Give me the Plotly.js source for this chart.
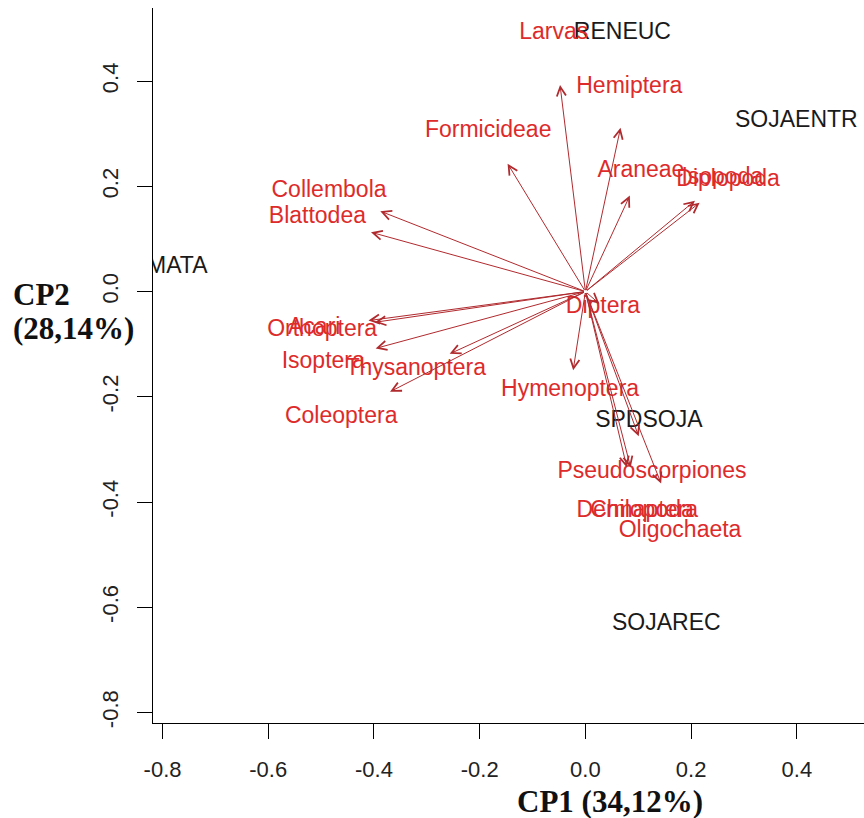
<!DOCTYPE html>
<html><head><meta charset="utf-8">
<script src="https://cdn.plot.ly/plotly-3.0.1.min.js"></script>
<style>html,body{margin:0;padding:0;background:#fff}#chart{width:864px;height:818px}</style>
</head><body><div id="chart"></div>
<script>
// Sites (scores)
const siteNames = ['MATA', 'RENEUC', 'SOJAENTR', 'SPDSOJA', 'SOJAREC'];
const siteCP1 = [-0.772, 0.070, 0.399, 0.120, 0.153];
const siteCP2 = [0.047, 0.491, 0.323, -0.247, -0.632];

// Variables (loadings, label positions)
const varNames = ['Larvas', 'Hemiptera', 'Formicideae', 'Araneae', 'Isopoda', 'Diplopoda',
  'Collembola', 'Blattodea', 'Orthoptera', 'Acari', 'Isoptera', 'Thysanoptera', 'Coleoptera',
  'Hymenoptera', 'Diptera', 'Pseudoscorpiones', 'Dermaptera', 'Chilopoda', 'Oligochaeta'];
const varCP1 = [-0.060, 0.083, -0.184, 0.105, 0.259, 0.270,
  -0.485, -0.507, -0.498, -0.513, -0.496, -0.321, -0.462,
  -0.029, 0.033, 0.126, 0.098, 0.107, 0.179];
const varCP2 = [0.491, 0.389, 0.304, 0.228, 0.216, 0.211,
  0.191, 0.141, -0.073, -0.069, -0.135, -0.148, -0.238,
  -0.187, -0.029, -0.344, -0.418, -0.418, -0.456];

// Axis ticks
const tickValues = [-0.8, -0.6, -0.4, -0.2, 0.0, 0.2, 0.4];
const tickLabels = ['-0.8', '-0.6', '-0.4', '-0.2', '0.0', '0.2', '0.4'];

const ARROW_FRACTION = 0.8; // R biplot draws arrows to 80% of label position
const FONT = 'Liberation Sans, Arial, sans-serif';
const SERIF = 'Liberation Serif, Times New Roman, serif';

const traces = [
  {
    type: 'scatter', mode: 'text', x: siteCP1, y: siteCP2, text: siteNames,
    textposition: 'middle center', cliponaxis: true, hoverinfo: 'skip', showlegend: false,
    textfont: {family: FONT, size: 23, color: '#1a1a1a'}
  },
  {
    type: 'scatter', mode: 'text', x: varCP1, y: varCP2, text: varNames,
    textposition: 'middle center', cliponaxis: true, hoverinfo: 'skip', showlegend: false,
    textfont: {family: FONT, size: 23, color: '#dd2b2b'}
  }
];

const annotations = varNames.map((n, i) => ({
  xref: 'x', yref: 'y', axref: 'x', ayref: 'y',
  x: varCP1[i] * ARROW_FRACTION, y: varCP2[i] * ARROW_FRACTION,
  ax: 0, ay: 0, text: '', showarrow: true,
  arrowhead: 5, arrowsize: 1.8, arrowwidth: 1, arrowcolor: '#b02a2e',
  standoff: 0, startstandoff: 0
}));

annotations.push(
  {xref: 'paper', yref: 'paper', x: 0.643, y: -0.11, xanchor: 'center', yanchor: 'middle',
   text: '<b>CP1 (34,12%)</b>', showarrow: false, font: {family: SERIF, size: 31, color: '#111'}},
  {xref: 'paper', yref: 'paper', x: -0.2, y: 0.600, xanchor: 'left', yanchor: 'middle',
   text: '<b>CP2</b>', showarrow: false, font: {family: SERIF, size: 31, color: '#111'}},
  {xref: 'paper', yref: 'paper', x: -0.2, y: 0.552, xanchor: 'left', yanchor: 'middle',
   text: '<b>(28,14%)</b>', showarrow: false, font: {family: SERIF, size: 31, color: '#111'}}
);

const axisCommon = {
  showline: true, linecolor: '#000', linewidth: 1, mirror: false,
  ticks: 'outside', ticklen: 15, tickwidth: 1, tickcolor: '#000',
  showgrid: false, zeroline: false,
  tickmode: 'array', tickvals: tickValues, ticktext: tickLabels,
  tickfont: {family: FONT, size: 22, color: '#222'}
};

const layout = {
  width: 864, height: 818,
  margin: {l: 153, r: 0, t: 8, b: 95},
  paper_bgcolor: '#fff', plot_bgcolor: '#fff',
  showlegend: false,
  xaxis: Object.assign({}, axisCommon, {range: [-0.818, 0.527], ticklabelstandoff: 12}),
  yaxis: Object.assign({}, axisCommon, {range: [-0.820, 0.539], tickangle: -90, ticklabelstandoff: 10}),
  annotations: annotations
};

Plotly.newPlot('chart', traces, layout, {displayModeBar: false, staticPlot: true});
</script>
</body></html>
